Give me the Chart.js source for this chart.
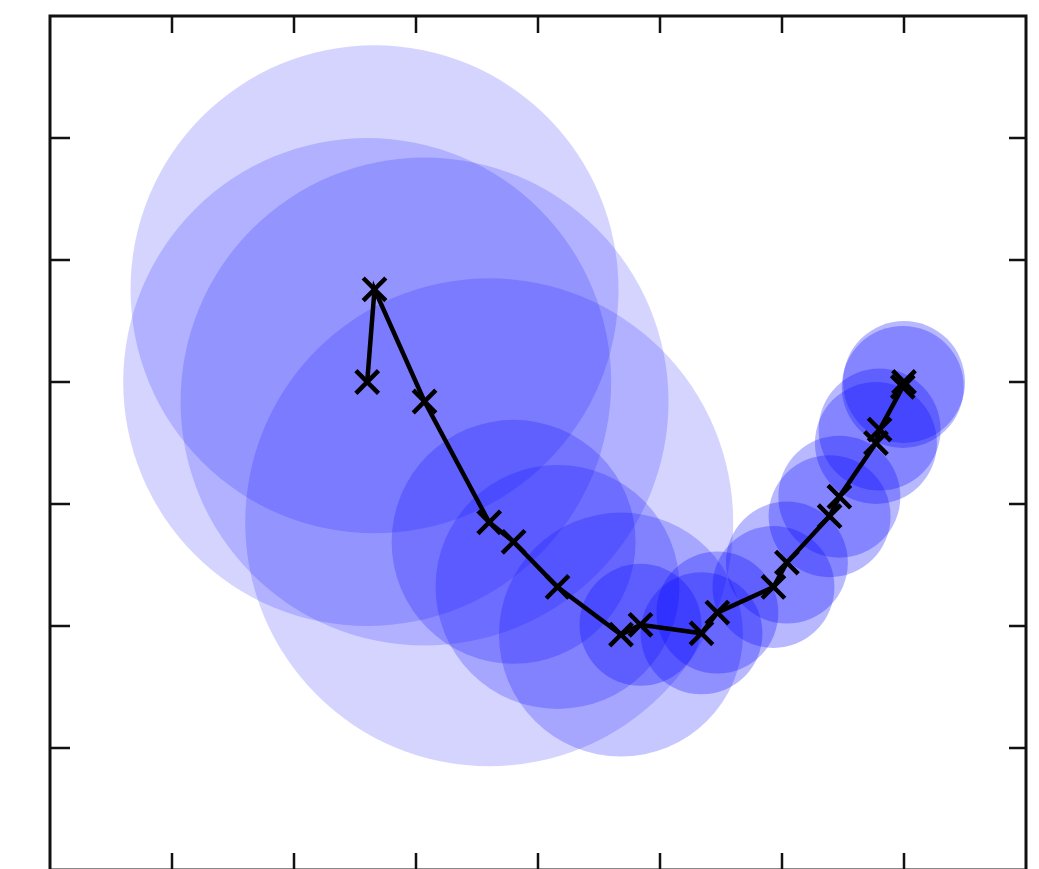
<!DOCTYPE html>
<html>
<head>
<meta charset="utf-8">
<script src="https://cdn.jsdelivr.net/npm/chart.js@4"></script>
<style>
html, body { margin: 0; padding: 0; background: #fff; overflow: hidden; }
</style>
</head>
<body>
<canvas id="pathChart" width="1039" height="876"></canvas>
<script>
// Path points (data units) and the spread of each one (bubble radius, in x units)
const xValues = [2.6, 2.66, 3.07, 3.6, 3.8, 4.16, 4.68, 4.84, 5.34, 5.47, 5.93, 6.04, 6.39, 6.47, 6.77, 6.8, 6.99, 7.0];
const yValues = [4.0, 4.76, 3.84, 2.85, 2.69, 2.32, 1.93, 2.01, 1.94, 2.11, 2.32, 2.52, 2.9, 3.06, 3.5, 3.61, 3.96, 4.0];
const spread = [2, 2, 2, 2, 1, 1, 1, 0.5, 0.5, 0.5, 0.5, 0.5, 0.5, 0.5, 0.5, 0.5, 0.5, 0.5];
const xTicks = [1, 2, 3, 4, 5, 6, 7];
const yTicks = [1, 2, 3, 4, 5, 6];

const pathPoints = xValues.map((x, i) => ({ x: x, y: yValues[i] }));

// pixels per data unit on the x axis
function unitPx(chart) {
    const s = chart.scales && chart.scales.x;
    if (!s) return 0;
    const d = Math.abs(s.getPixelForValue(1) - s.getPixelForValue(0));
    return isFinite(d) ? d : 0;
}

// smaller circles are drawn a bit denser
function bubbleFill(c) {
    const s = spread[c.dataIndex];
    const a = s >= 2 ? 0.17 : s >= 1 ? 0.22 : 0.28;
    return "rgba(0, 0, 255, " + a + ")";
}

// box round the plot with inward ticks on all four sides
const frame = {
    id: "frame",
    afterDraw(chart) {
        const { ctx, chartArea: a, scales } = chart;
        const len = 17;
        ctx.save();
        ctx.strokeStyle = "#111";
        ctx.lineWidth = 2.5;
        ctx.beginPath();
        xTicks.forEach((v) => {
            const px = scales.x.getPixelForValue(v);
            ctx.moveTo(px, a.top);
            ctx.lineTo(px, a.top + len);
            ctx.moveTo(px, a.bottom);
            ctx.lineTo(px, a.bottom - len);
        });
        yTicks.forEach((v) => {
            const py = scales.y.getPixelForValue(v);
            ctx.moveTo(a.left, py);
            ctx.lineTo(a.left + len + 3, py);
            ctx.moveTo(a.right, py);
            ctx.lineTo(a.right - len, py);
        });
        ctx.stroke();
        ctx.lineWidth = 3;
        ctx.strokeRect(a.left, a.top, a.right - a.left, a.bottom - a.top);
        ctx.restore();
    },
};

const ctx = document.getElementById("pathChart").getContext("2d");
const chart = new Chart(ctx, {
    type: "scatter",
    data: {
        datasets: [
            {
                type: "line",
                data: pathPoints,
                borderColor: "#000",
                borderWidth: 4.5,
                tension: 0,
                fill: false,
                pointStyle: "crossRot",
                pointRadius: 16,
                pointBorderWidth: 4.5,
                pointBorderColor: "#000",
                pointBackgroundColor: "#000",
                order: 0,
            },
            {
                type: "bubble",
                data: [],
                backgroundColor: bubbleFill,
                borderWidth: 0,
                hoverRadius: 0,
                clip: false,
                order: 1,
            },
        ],
    },
    options: {
        responsive: false,
        animation: false,
        layout: {
            autoPadding: false,
            padding: { left: 50, top: 16, right: 13, bottom: 6 },
        },
        scales: {
            x: { type: "linear", min: 0, max: 8, display: false },
            y: { type: "linear", min: 0, max: 7, display: false },
        },
        plugins: {
            legend: { display: false },
            tooltip: { enabled: false },
        },
    },
    plugins: [frame],
});

// bubble radius is in pixels, so convert the spread once the scales are laid out
const k = unitPx(chart);
chart.data.datasets[1].data = xValues.map((x, i) => ({ x: x, y: yValues[i], r: spread[i] * k }));
chart.update("none");
</script>
</body>
</html>
